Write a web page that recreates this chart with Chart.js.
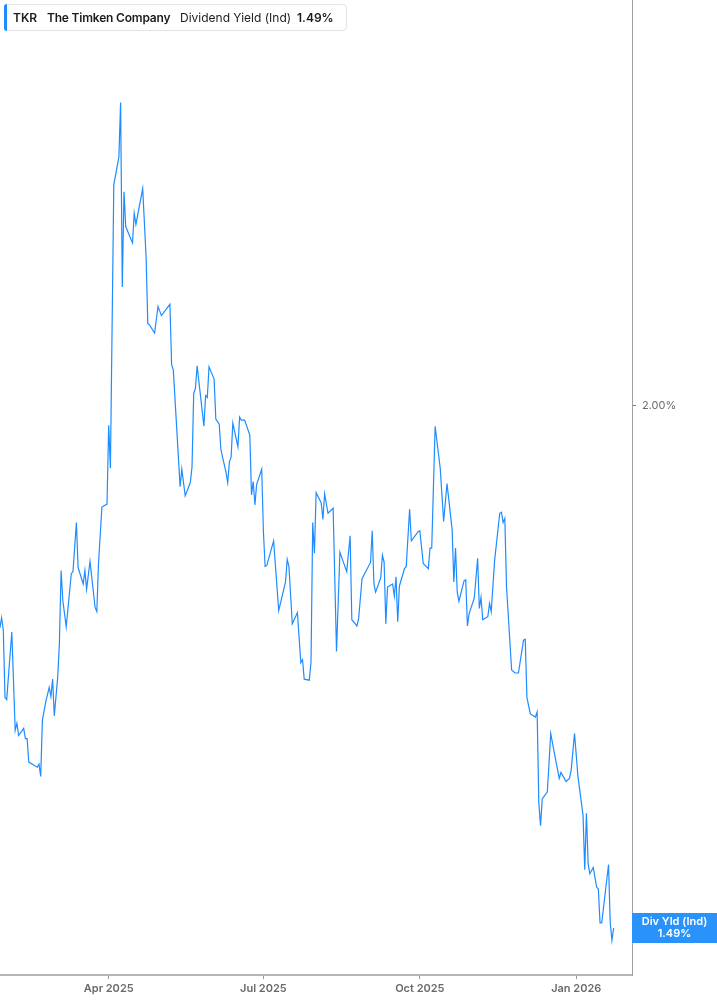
<!DOCTYPE html>
<html>
<head>
<meta charset="utf-8">
<script src="https://cdn.jsdelivr.net/npm/chart.js@4.4.1/dist/chart.umd.min.js"></script>
<style>
  html, body { margin: 0; padding: 0; background: #ffffff; }
  #wrap { position: relative; width: 717px; height: 1005px; font-family: Inter, "Noto Sans", sans-serif; }
  #chart { position: absolute; left: 0; top: 0; }
  #legend { position: absolute; left: 4px; top: 4px; width: 343px; height: 27px; box-sizing: border-box;
            border: 1px solid #e4e4e4; border-radius: 4px; background: #fff; }
  #legend .bar { position: absolute; left: -1px; top: -1px; width: 3px; height: 27px; background: #1e8cff; border-radius: 3px 0 0 3px; }
  #legend span { position: absolute; top: 5px; font-size: 12px; line-height: 16px; color: #1b1b1b; white-space: nowrap; }
  #legend .b { font-weight: 600; }
</style>
</head>
<body>
<div id="wrap">
  <canvas id="chart" width="717" height="1005"></canvas>
  <div id="legend">
    <div class="bar"></div>
    <span class="b" id="lgTicker" style="left:8px"></span>
    <span class="b" id="lgName" style="left:42px;letter-spacing:-0.2px"></span>
    <span id="lgMetric" style="left:175px"></span>
    <span class="b" id="lgValue" style="left:292px"></span>
  </div>
</div>
<script>
// ---- data ----
const ticker = 'TKR';
const companyName = 'The Timken Company';
const metricName = 'Dividend Yield (Ind)';
const badgeTitle = 'Div Yld (Ind)';

// days since 2025-01-01 for each observation
const dayOffsets = [
  26,27,28,29,30,33,35,36,37,40,
  41,42,43,48,49,50,51,53,55,56,
  57,58,60,61,62,63,65,68,69,71,
  72,75,76,77,79,82,83,84,86,89,
  90,91,93,96,97,98,99,100,104,105,
  106,110,112,113,114,117,119,121,126,127,
  128,132,133,135,138,139,140,141,142,146,
  147,148,149,152,153,155,156,159,160,161,
  162,163,166,167,168,170,173,174,175,176,
  177,180,181,182,183,187,190,194,195,196,
  198,201,203,204,205,208,209,210,211,212,
  215,216,217,219,222,224,226,230,232,233,
  236,237,239,244,245,246,247,250,251,252,
  253,254,257,258,259,260,261,264,265,267,
  268,272,273,275,278,279,280,282,285,287,
  289,292,293,294,295,296,299,300,301,302,
  305,307,308,309,310,313,314,315,317,320,
  321,322,323,324,327,329,331,334,335,336,
  338,341,342,343,344,345,348,350,352,355,
  356,359,361,362,364,366,369,370,371,372,
  373,375,377,378,379,380,384,385,386,387
];

// dividend yield, percent
const yieldPct = [
  1.783,1.793,1.781,1.715,1.713,1.779,1.683,1.690,1.678,1.685,
  1.675,1.675,1.652,1.647,1.650,1.638,1.693,1.711,1.725,1.716,
  1.733,1.697,1.735,1.768,1.839,1.810,1.784,1.836,1.838,1.886,
  1.842,1.826,1.839,1.821,1.848,1.803,1.799,1.846,1.901,1.904,
  1.981,1.939,2.216,2.243,2.296,2.116,2.209,2.175,2.159,2.188,
  2.177,2.212,2.145,2.080,2.079,2.071,2.097,2.088,2.099,2.040,
  2.035,1.921,1.938,1.912,1.925,1.940,2.012,2.017,2.039,1.980,
  2.010,2.008,2.038,2.026,1.987,1.982,1.957,1.935,1.925,1.945,
  1.950,1.983,1.960,1.989,1.986,1.986,1.971,1.913,1.926,1.903,
  1.923,1.938,1.877,1.843,1.844,1.868,1.800,1.828,1.850,1.843,
  1.787,1.798,1.749,1.752,1.733,1.732,1.750,1.886,1.856,1.915,
  1.905,1.889,1.914,1.895,1.900,1.760,1.857,1.838,1.873,1.791,
  1.785,1.792,1.831,1.847,1.878,1.826,1.818,1.832,1.854,1.847,
  1.787,1.823,1.826,1.814,1.833,1.789,1.824,1.841,1.843,1.899,
  1.868,1.877,1.878,1.846,1.841,1.861,1.861,1.980,1.939,1.887,
  1.924,1.879,1.828,1.861,1.818,1.809,1.829,1.830,1.785,1.797,
  1.812,1.851,1.802,1.813,1.791,1.794,1.807,1.799,1.849,1.895,
  1.896,1.886,1.890,1.823,1.742,1.739,1.739,1.771,1.772,1.715,
  1.699,1.696,1.701,1.612,1.590,1.616,1.623,1.680,1.662,1.636,
  1.642,1.633,1.636,1.644,1.680,1.638,1.600,1.547,1.602,1.553,
  1.543,1.549,1.530,1.528,1.495,1.495,1.552,1.495,1.478,1.490
];

const xTickDays = [90, 181, 273, 365];
const xTickLabels = ['Apr 2025', 'Jul 2025', 'Oct 2025', 'Jan 2026'];
const yTickValues = [2.00];

const xMin = 26.06, xMax = 397.8;
const yMin = 1.4441, yMax = 2.3962;

// ---- legend text ----
const lastVal = yieldPct[yieldPct.length - 1];
document.getElementById('lgTicker').textContent = ticker;
document.getElementById('lgName').textContent = companyName;
document.getElementById('lgMetric').textContent = metricName;
document.getElementById('lgValue').textContent = lastVal.toFixed(2) + '%';

const LINE = '#1e8cff';

const badgePlugin = {
  id: 'badge',
  afterDraw(chart) {
    const ctx = chart.ctx;
    const ys = chart.scales.y;
    const area = chart.chartArea;
    const yc = ys.getPixelForValue(lastVal);
    const x0 = area.right, x1 = chart.width;
    ctx.save();
    ctx.fillStyle = '#2a92fb';
    ctx.fillRect(x0, yc - 15, x1 - x0, 30);
    ctx.fillStyle = '#ffffff';
    ctx.font = '600 11px Inter, "Noto Sans", sans-serif';
    ctx.textAlign = 'center';
    ctx.textBaseline = 'middle';
    const cx = (x0 + x1) / 2;
    ctx.fillText(badgeTitle, cx, yc - 6.5);
    ctx.fillText(lastVal.toFixed(2) + '%', cx, yc + 6);
    ctx.restore();
  }
};

new Chart(document.getElementById('chart'), {
  type: 'line',
  data: {
    datasets: [{
      data: dayOffsets.map((d, i) => ({ x: d, y: yieldPct[i] })),
      borderColor: LINE,
      borderWidth: 1.2,
      pointRadius: 0,
      tension: 0,
      fill: false
    }]
  },
  options: {
    responsive: false,
    animation: false,
    layout: { padding: 0 },
    plugins: { legend: { display: false }, tooltip: { enabled: false } },
    scales: {
      x: {
        type: 'linear',
        min: xMin, max: xMax,
        afterBuildTicks(scale) { scale.ticks = xTickDays.map(v => ({ value: v })); },
        afterFit(scale) { scale.height = 30; scale.paddingLeft = 0; scale.paddingRight = 0; },
        grid: { display: true, drawOnChartArea: false, drawTicks: true, tickLength: 4, color: '#999' },
        border: { display: true, color: '#b4b4b4', width: 2 },
        ticks: {
          autoSkip: false, maxRotation: 0, padding: 3,
          color: '#6a6a6a',
          font: { family: 'Inter, "Noto Sans", sans-serif', size: 11, weight: '600' },
          callback(v) { const i = xTickDays.indexOf(v); return i >= 0 ? xTickLabels[i] : ''; }
        }
      },
      y: {
        type: 'linear',
        position: 'right',
        min: yMin, max: yMax,
        afterBuildTicks(scale) { scale.ticks = yTickValues.map(v => ({ value: v })); },
        afterFit(scale) { scale.width = 85; scale.paddingTop = 0; scale.paddingBottom = 0; },
        grid: { display: true, drawOnChartArea: false, drawTicks: true, tickLength: 4, color: '#777' },
        border: { display: true, color: '#a0a0a0', width: 1 },
        ticks: {
          padding: 6,
          color: '#6a6a6a',
          font: { family: 'Inter, "Noto Sans", sans-serif', size: 11 },
          callback(v) { return v.toFixed(2) + '%'; }
        }
      }
    }
  },
  plugins: [badgePlugin]
});
</script>
</body>
</html>
